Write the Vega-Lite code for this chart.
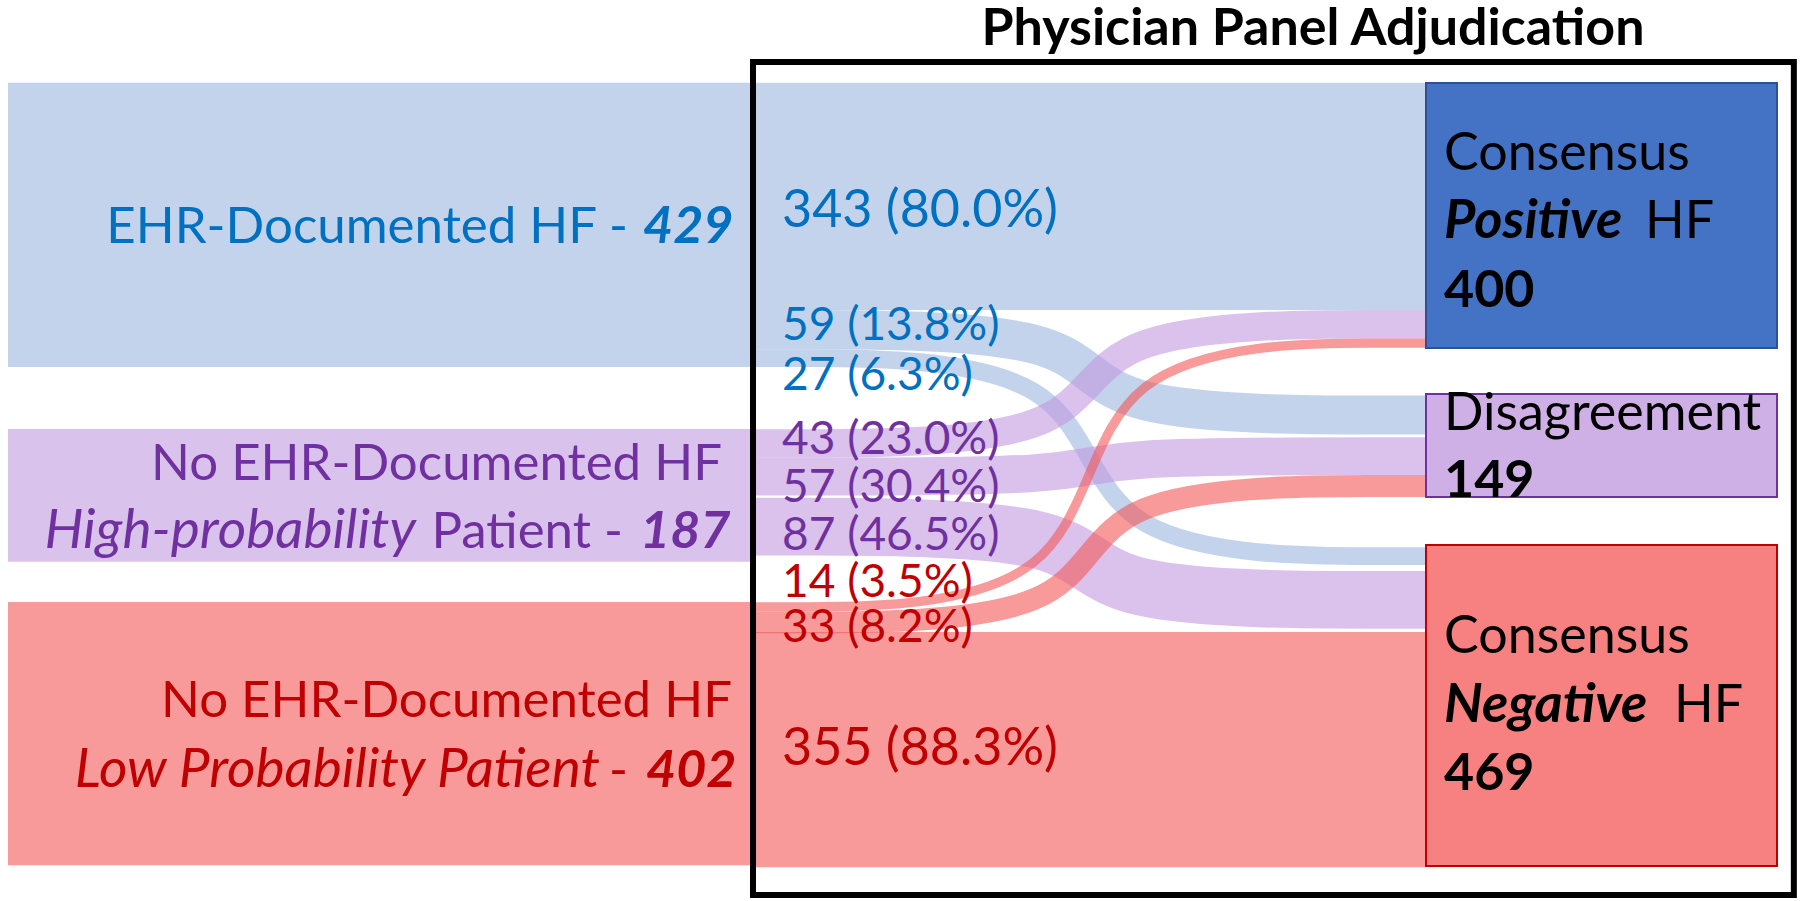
{
  "$schema": "https://vega.github.io/schema/vega-lite/v6.json",
  "width": 1800,
  "height": 901,
  "padding": 0,
  "autosize": {"type": "none"},
  "background": "white",
  "config": {"view": {"stroke": null}, "font": "Lato"},
  "layer": [
    {
      "data": {"values": [
        {"g": "EHR", "x": 0, "x2": 1, "y": 125, "y2": 554},
        {"g": "High", "x": 0, "x2": 1, "y": 647.5, "y2": 848},
        {"g": "Low", "x": 0, "x2": 1, "y": 908.7, "y2": 1306}
      ]},
      "mark": {"type": "rect"},
      "encoding": {
        "x": {"field": "x", "type": "quantitative", "scale": {"domain": [0, 1, 2, 3], "range": [8, 752, 1426, 1777], "nice": false, "zero": false}, "axis": null},
        "x2": {"field": "x2"},
        "y": {"field": "y", "type": "quantitative", "scale": {"domain": [0, 1360], "range": [0, 901], "nice": false, "zero": false}, "axis": null},
        "y2": {"field": "y2"},
        "color": {"field": "g", "type": "nominal", "scale": {"domain": ["EHR", "High", "Low"], "range": ["#C4D3EC", "#D9C2EB", "#F89A9A"]}, "legend": null}
      }
    },
    {
      "data": {"values": [
        {"flow": "f1", "src": "EHR", "n": 343, "k": 1, "x": 1, "y": 296.5},
        {"flow": "f1", "src": "EHR", "n": 343, "k": 2, "x": 1.5, "y": 296.5},
        {"flow": "f1", "src": "EHR", "n": 343, "k": 3, "x": 1.5, "y": 296.5},
        {"flow": "f1", "src": "EHR", "n": 343, "k": 4, "x": 2, "y": 296.5},
        {"flow": "f2", "src": "EHR", "n": 59, "k": 1, "x": 1, "y": 497.5},
        {"flow": "f2", "src": "EHR", "n": 59, "k": 2, "x": 1.5, "y": 497.5},
        {"flow": "f2", "src": "EHR", "n": 59, "k": 3, "x": 1.5, "y": 626.5},
        {"flow": "f2", "src": "EHR", "n": 59, "k": 4, "x": 2, "y": 626.5},
        {"flow": "f3", "src": "EHR", "n": 27, "k": 1, "x": 1, "y": 540.5},
        {"flow": "f3", "src": "EHR", "n": 27, "k": 2, "x": 1.5, "y": 540.5},
        {"flow": "f3", "src": "EHR", "n": 27, "k": 3, "x": 1.5, "y": 839.5},
        {"flow": "f3", "src": "EHR", "n": 27, "k": 4, "x": 2, "y": 839.5},
        {"flow": "f4", "src": "High", "n": 43, "k": 1, "x": 1, "y": 669.5},
        {"flow": "f4", "src": "High", "n": 43, "k": 2, "x": 1.5, "y": 669.5},
        {"flow": "f4", "src": "High", "n": 43, "k": 3, "x": 1.5, "y": 489.5},
        {"flow": "f4", "src": "High", "n": 43, "k": 4, "x": 2, "y": 489.5},
        {"flow": "f5", "src": "High", "n": 57, "k": 1, "x": 1, "y": 719.5},
        {"flow": "f5", "src": "High", "n": 57, "k": 2, "x": 1.5, "y": 719.5},
        {"flow": "f5", "src": "High", "n": 57, "k": 3, "x": 1.5, "y": 688.5},
        {"flow": "f5", "src": "High", "n": 57, "k": 4, "x": 2, "y": 688.5},
        {"flow": "f6", "src": "High", "n": 87, "k": 1, "x": 1, "y": 795},
        {"flow": "f6", "src": "High", "n": 87, "k": 2, "x": 1.5, "y": 795},
        {"flow": "f6", "src": "High", "n": 87, "k": 3, "x": 1.5, "y": 905.5},
        {"flow": "f6", "src": "High", "n": 87, "k": 4, "x": 2, "y": 905.5},
        {"flow": "f7", "src": "Low", "n": 14, "k": 1, "x": 1, "y": 916},
        {"flow": "f7", "src": "Low", "n": 14, "k": 2, "x": 1.5, "y": 916},
        {"flow": "f7", "src": "Low", "n": 14, "k": 3, "x": 1.5, "y": 518},
        {"flow": "f7", "src": "Low", "n": 14, "k": 4, "x": 2, "y": 518},
        {"flow": "f8", "src": "Low", "n": 33, "k": 1, "x": 1, "y": 939.5},
        {"flow": "f8", "src": "Low", "n": 33, "k": 2, "x": 1.5, "y": 939.5},
        {"flow": "f8", "src": "Low", "n": 33, "k": 3, "x": 1.5, "y": 733.5},
        {"flow": "f8", "src": "Low", "n": 33, "k": 4, "x": 2, "y": 733.5},
        {"flow": "f9", "src": "Low", "n": 355, "k": 1, "x": 1, "y": 1131.5},
        {"flow": "f9", "src": "Low", "n": 355, "k": 2, "x": 1.5, "y": 1131.5},
        {"flow": "f9", "src": "Low", "n": 355, "k": 3, "x": 1.5, "y": 1131.5},
        {"flow": "f9", "src": "Low", "n": 355, "k": 4, "x": 2, "y": 1131.5}
      ]},
      "mark": {"type": "line", "interpolate": "basis", "strokeCap": "butt", "opacity": 0.6},
      "encoding": {
        "x": {"field": "x", "type": "quantitative"},
        "y": {"field": "y", "type": "quantitative"},
        "detail": {"field": "flow", "type": "nominal"},
        "order": {"field": "k", "type": "quantitative"},
        "color": {"field": "src", "type": "nominal", "scale": {"domain": ["EHR", "High", "Low"], "range": ["#9DB6DF", "#C199DF", "#F35757"]}, "legend": null},
        "size": {"field": "n", "type": "quantitative", "scale": {"domain": [0, 1000], "range": [0, 662.5], "zero": true, "nice": false}, "legend": null}
      }
    },
    {
      "data": {"values": [
        {"b": "pos", "x": 2, "x2": 3, "y": 125.3, "y2": 525.3},
        {"b": "dis", "x": 2, "x2": 3, "y": 594.7, "y2": 750.2},
        {"b": "neg", "x": 2, "x2": 3, "y": 822.6, "y2": 1307.2}
      ]},
      "mark": {"type": "rect", "strokeWidth": 2},
      "encoding": {
        "x": {"field": "x", "type": "quantitative"},
        "x2": {"field": "x2"},
        "y": {"field": "y", "type": "quantitative"},
        "y2": {"field": "y2"},
        "fill": {"field": "b", "type": "nominal", "scale": {"domain": ["pos", "dis", "neg"], "range": ["#4472C4", "#CEB0E6", "#F78080"]}, "legend": null},
        "stroke": {"field": "b", "type": "nominal", "scale": {"domain": ["pos", "dis", "neg"], "range": ["#2F528F", "#7030A0", "#C00000"]}, "legend": null}
      }
    },
    {
      "data": {"values": [
        {"t": "EHR-Documented HF -", "x": 0.8333, "y": 366.8, "g": "EHR"},
        {"t": "No EHR-Documented HF", "x": 0.9597, "y": 724.5, "g": "High"},
        {"t": "Patient -", "x": 0.8266, "y": 827.2, "g": "High"},
        {"t": "No EHR-Documented HF", "x": 0.9731, "y": 1082.3, "g": "Low"},
        {"t": "-", "x": 0.8333, "y": 1187.9, "g": "Low"}
      ]},
      "mark": {"type": "text", "align": "right", "baseline": "alphabetic", "fontSize": 51, "font": "Lato"},
      "encoding": {
        "x": {"field": "x", "type": "quantitative"},
        "y": {"field": "y", "type": "quantitative"},
        "text": {"field": "t"},
        "color": {"field": "g", "type": "nominal", "scale": {"domain": ["EHR", "High", "Low"], "range": ["#0070C0", "#7030A0", "#C00000"]}, "legend": null}
      }
    },
    {
      "data": {"values": [
        {"t": "High-probability", "x": 0.5484, "y": 827.2, "g": "High"},
        {"t": "Low Probability Patient", "x": 0.7957, "y": 1187.9, "g": "Low"}
      ]},
      "mark": {"type": "text", "align": "right", "baseline": "alphabetic", "fontSize": 55, "font": "Lato", "fontStyle": "italic"},
      "encoding": {
        "x": {"field": "x", "type": "quantitative"},
        "y": {"field": "y", "type": "quantitative"},
        "text": {"field": "t"},
        "color": {"field": "g", "type": "nominal", "scale": {"domain": ["EHR", "High", "Low"], "range": ["#0070C0", "#7030A0", "#C00000"]}, "legend": null}
      }
    },
    {
      "data": {"values": [
        {"t": "429", "x": 0.8535, "y": 366.8, "g": "EHR"},
        {"t": "187", "x": 0.8495, "y": 827.2, "g": "High"},
        {"t": "402", "x": 0.8575, "y": 1187.9, "g": "Low"}
      ]},
      "mark": {"type": "text", "align": "left", "baseline": "alphabetic", "fontSize": 52, "font": "Lato", "fontStyle": "italic", "fontWeight": "bold"},
      "encoding": {
        "x": {"field": "x", "type": "quantitative"},
        "y": {"field": "y", "type": "quantitative"},
        "text": {"field": "t"},
        "color": {"field": "g", "type": "nominal", "scale": {"domain": ["EHR", "High", "Low"], "range": ["#0070C0", "#7030A0", "#C00000"]}, "legend": null}
      }
    },
    {
      "data": {"values": [
        {"t": "343 (80.0%)", "x": 1.0445, "y": 342.6, "g": "EHR"},
        {"t": "355 (88.3%)", "x": 1.0445, "y": 1154.7, "g": "Low"}
      ]},
      "mark": {"type": "text", "align": "left", "baseline": "alphabetic", "fontSize": 52, "font": "Lato"},
      "encoding": {
        "x": {"field": "x", "type": "quantitative"},
        "y": {"field": "y", "type": "quantitative"},
        "text": {"field": "t"},
        "color": {"field": "g", "type": "nominal", "scale": {"domain": ["EHR", "High", "Low"], "range": ["#0070C0", "#7030A0", "#C00000"]}, "legend": null}
      }
    },
    {
      "data": {"values": [
        {"t": "59 (13.8%)", "x": 1.0445, "y": 513.2, "g": "EHR"},
        {"t": "27 (6.3%)", "x": 1.0445, "y": 588.7, "g": "EHR"},
        {"t": "43 (23.0%)", "x": 1.0445, "y": 685.3, "g": "High"},
        {"t": "57 (30.4%)", "x": 1.0445, "y": 757.7, "g": "High"},
        {"t": "87 (46.5%)", "x": 1.0445, "y": 830.2, "g": "High"},
        {"t": "14 (3.5%)", "x": 1.0445, "y": 901.1, "g": "Low"},
        {"t": "33 (8.2%)", "x": 1.0445, "y": 969.1, "g": "Low"}
      ]},
      "mark": {"type": "text", "align": "left", "baseline": "alphabetic", "fontSize": 46, "font": "Lato"},
      "encoding": {
        "x": {"field": "x", "type": "quantitative"},
        "y": {"field": "y", "type": "quantitative"},
        "text": {"field": "t"},
        "color": {"field": "g", "type": "nominal", "scale": {"domain": ["EHR", "High", "Low"], "range": ["#0070C0", "#7030A0", "#C00000"]}, "legend": null}
      }
    },
    {
      "data": {"values": [
        {"t": "Consensus", "x": 2.0513, "y": 256.6},
        {"t": "HF", "x": 2.6239, "y": 359.2},
        {"t": "Disagreement", "x": 2.0513, "y": 649.1},
        {"t": "Consensus", "x": 2.0513, "y": 985.7},
        {"t": "HF", "x": 2.7066, "y": 1089.8}
      ]},
      "mark": {"type": "text", "align": "left", "baseline": "alphabetic", "fontSize": 52, "font": "Lato", "color": "black"},
      "encoding": {
        "x": {"field": "x", "type": "quantitative"},
        "y": {"field": "y", "type": "quantitative"},
        "text": {"field": "t"}
      }
    },
    {
      "data": {"values": [
        {"t": "Positive", "x": 2.0513, "y": 359.2},
        {"t": "Negative", "x": 2.0513, "y": 1089.8}
      ]},
      "mark": {"type": "text", "align": "left", "baseline": "alphabetic", "fontSize": 54, "font": "Lato", "fontStyle": "italic", "fontWeight": "bold", "color": "black"},
      "encoding": {
        "x": {"field": "x", "type": "quantitative"},
        "y": {"field": "y", "type": "quantitative"},
        "text": {"field": "t"}
      }
    },
    {
      "data": {"values": [
        {"t": "400", "x": 2.0513, "y": 463.4},
        {"t": "149", "x": 2.0513, "y": 750.2},
        {"t": "469", "x": 2.0513, "y": 1192.5}
      ]},
      "mark": {"type": "text", "align": "left", "baseline": "alphabetic", "fontSize": 52, "font": "Lato", "fontWeight": "bold", "color": "black"},
      "encoding": {
        "x": {"field": "x", "type": "quantitative"},
        "y": {"field": "y", "type": "quantitative"},
        "text": {"field": "t"}
      }
    },
    {
      "data": {"values": [
        {"t": "Physician Panel Adjudication", "x": 1.8323, "y": 68.4}
      ]},
      "mark": {"type": "text", "align": "center", "baseline": "alphabetic", "fontSize": 52, "font": "Lato", "fontWeight": "bold", "color": "black"},
      "encoding": {
        "x": {"field": "x", "type": "quantitative"},
        "y": {"field": "y", "type": "quantitative"},
        "text": {"field": "t"}
      }
    },
    {
      "data": {"values": [
        {"x": 1.0015, "x2": 3.048, "y": 93.6, "y2": 1351}
      ]},
      "mark": {"type": "rect", "filled": false, "color": "black", "strokeWidth": 6},
      "encoding": {
        "x": {"field": "x", "type": "quantitative"},
        "x2": {"field": "x2"},
        "y": {"field": "y", "type": "quantitative"},
        "y2": {"field": "y2"}
      }
    }
  ],
  "resolve": {"scale": {"color": "independent", "fill": "independent", "stroke": "independent", "size": "independent"}}
}
